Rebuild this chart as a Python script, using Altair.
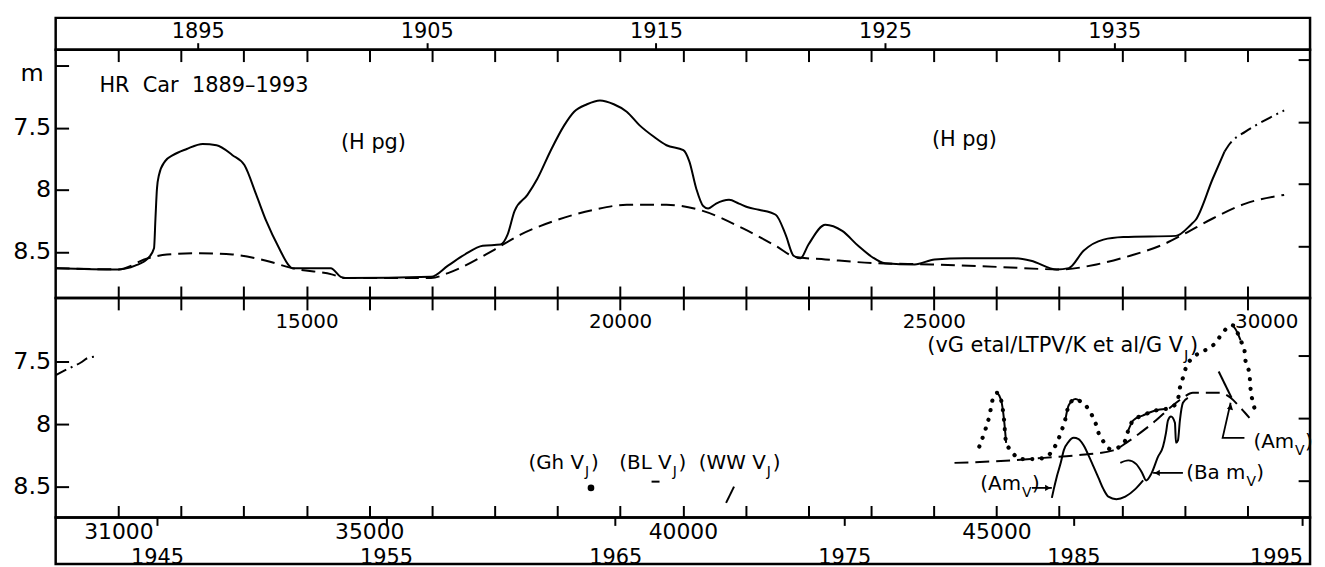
import altair as alt
import pandas as pd

FONT = "DejaVu Sans"
W = 1263
H_STRIP_TOP = 32
H_TOP = 250
H_BOT = 221
H_STRIP_BOT = 47

# ---------------- data (JD - 2400000, magnitude) ----------------
# top panel: HR Car light curve (H pg), solid
hpg_jd = [11000, 11998, 12267, 12473, 12568, 12591, 12615, 12647, 12742, 12869, 13090, 13344,
          13565, 13819, 14009, 14199, 14357, 14563, 14721, 14769, 15386, 15545, 15624, 16986,
          17255, 17524, 17809, 18094, 18205, 18316, 18522, 18680, 18886, 19108, 19266, 19472,
          19678, 19899, 20105, 20311, 20533, 20739, 21008, 21103, 21214, 21324, 21403, 21530,
          21736, 21894, 22037, 22211, 22480, 22638, 22765, 22876, 23003, 23272, 23541, 23795,
          24016, 24222, 24697, 25014, 25489, 26281, 26550, 26962, 27152, 27389, 27706, 28023,
          28862, 29100, 29178, 29448, 29638]
hpg_mag = [8.63, 8.64, 8.61, 8.55, 8.47, 8.23, 7.99, 7.88, 7.77, 7.72, 7.67, 7.63,
           7.64, 7.72, 7.80, 8.04, 8.25, 8.47, 8.61, 8.63, 8.63, 8.70, 8.71, 8.70,
           8.61, 8.52, 8.45, 8.44, 8.36, 8.17, 8.04, 7.91, 7.69, 7.48, 7.37, 7.31,
           7.28, 7.31, 7.37, 7.48, 7.57, 7.64, 7.68, 7.77, 7.99, 8.13, 8.15, 8.11,
           8.08, 8.11, 8.14, 8.16, 8.20, 8.36, 8.53, 8.55, 8.44, 8.28, 8.33, 8.45,
           8.54, 8.59, 8.60, 8.56, 8.55, 8.55, 8.57, 8.64, 8.63, 8.49, 8.40, 8.38,
           8.37, 8.28, 8.24, 7.91, 7.69]

# top panel: dash-dot continuation
dd_top_jd = [29638, 29717, 29970, 30239, 30587]
dd_top_mag = [7.69, 7.63, 7.53, 7.45, 7.36]

# top panel: dashed secular trend
trend_top_jd = [11000, 11998, 12473, 12774, 13296, 13819, 14357, 14769, 15402, 15624, 16986,
                17255, 17999, 18411, 18949, 19583, 20105, 20739, 21261, 21958, 22480, 22797,
                23272, 24064, 24966, 26011, 27025, 27595, 28133, 28656, 28973, 29448, 29970, 30587]
trend_top_mag = [8.63, 8.64, 8.55, 8.52, 8.51, 8.52, 8.57, 8.63, 8.68, 8.71, 8.71,
                 8.67, 8.48, 8.36, 8.25, 8.16, 8.12, 8.12, 8.16, 8.31, 8.45, 8.54,
                 8.56, 8.59, 8.60, 8.62, 8.64, 8.60, 8.53, 8.44, 8.36, 8.23, 8.11, 8.04]

# bottom panel: dash-dot start
dd_bot_jd = [30000, 30190, 30396, 30523, 30681]
dd_bot_mag = [7.61, 7.56, 7.51, 7.47, 7.46]

# bottom panel: dashed trend
trend_bot_jd = [44331, 45233, 45756, 46278, 46864, 47070, 47292, 47545, 47767, 47973, 48131,
                48337, 48559, 48733, 48891, 49034]
trend_bot_mag = [8.31, 8.29, 8.27, 8.25, 8.21, 8.15, 8.07, 7.97, 7.87, 7.79, 7.75,
                 7.75, 7.75, 7.79, 7.87, 7.95]

# bottom panel: dotted vG et al / LTPV / K et al / G  V_J
vg_jd = [44727, 44806, 44885, 44948, 45012, 45075, 45122, 45154, 45233, 45312, 45407, 45597,
         45756, 45867, 45962, 46041, 46104, 46152, 46263, 46342, 46421, 46500, 46579, 46627,
         46706, 46817, 46975, 47054, 47102, 47181, 47339, 47545, 47688, 47783, 47894, 47925,
         47973, 48020, 48131, 48242, 48400, 48495, 48606, 48685, 48764, 48843, 48891, 48954,
         48970, 49034, 49050, 49081, 49129]
vg_mag = [8.18, 8.07, 7.94, 7.79, 7.75, 7.81, 7.97, 8.15, 8.21, 8.26, 8.28, 8.28,
          8.27, 8.23, 8.15, 8.05, 7.95, 7.85, 7.80, 7.82, 7.85, 7.91, 7.99, 8.07,
          8.14, 8.20, 8.18, 8.13, 8.05, 7.97, 7.93, 7.89, 7.88, 7.87, 7.80, 7.71,
          7.63, 7.55, 7.47, 7.43, 7.39, 7.35, 7.27, 7.23, 7.21, 7.27, 7.33, 7.41,
          7.49, 7.60, 7.71, 7.81, 7.89]
# solid pieces drawn over the dotted curve
vgs_seg = ["a", "a", "a", "a", "b", "b", "b", "b", "c", "c", "c", "c", "c", "d", "d", "d"]
vgs_jd = [45012, 45075, 45122, 45154, 46104, 46152, 46263, 46342, 47102, 47181, 47339, 47545,
          47688, 48764, 48843, 48891]
vgs_mag = [7.75, 7.81, 7.97, 8.15, 7.95, 7.85, 7.80, 7.82, 8.05, 7.97, 7.93, 7.89,
           7.88, 7.21, 7.27, 7.33]

# bottom panel: Am V (left)
am1_jd = [45883, 45914, 45962, 46025, 46073, 46152, 46231, 46310, 46389, 46468, 46548, 46627,
          46706, 46785, 46912, 47054, 47213, 47339]
am1_mag = [8.59, 8.52, 8.42, 8.31, 8.21, 8.14, 8.11, 8.12, 8.17, 8.25, 8.34, 8.43,
           8.52, 8.58, 8.60, 8.58, 8.52, 8.45]

# bottom panel: Ba m V
ba_jd = [46975, 47102, 47229, 47323, 47387, 47466, 47577, 47656, 47703, 47735, 47783, 47846,
         47862, 47894, 47925, 47973, 48052]
ba_mag = [8.31, 8.29, 8.32, 8.39, 8.45, 8.40, 8.26, 8.18, 8.07, 7.97, 7.94, 7.99,
          8.15, 8.13, 7.97, 7.83, 7.79]

# short segments: BL V_J, WW V_J, Am V (right)
seg_id = ["BL", "BL", "WW", "WW", "AmR", "AmR"]
seg_jd = [39501, 39628, 40689, 40816, 48543, 48748]
seg_mag = [8.46, 8.46, 8.63, 8.50, 7.58, 7.79]

# Gh V_J single point
gh_jd = [38535]
gh_mag = [8.51]

# leader lines
lead_id = ["L1", "L1", "L2", "L2", "L3", "L3", "L3"]
lead_ord = [0, 1, 0, 1, 0, 1, 2]
lead_jd = [45566, 45883, 47973, 47498, 48954, 48606, 48733]
lead_mag = [8.51, 8.51, 8.39, 8.39, 8.11, 8.11, 7.83]

# labels (bottom panel)
lab_jd = [38424, 39821, 41322, 45392, 48970, 49746]
lab_mag = [8.31, 8.31, 8.31, 8.48, 8.39, 8.14]
lab_main = ["(Gh V", "(BL V", "(WW V", "(Am", "(Ba m", "(Am"]
lab_sub = ["J", "J", "J", "V", "V", "V"]
vg_lab_jd = [47975]
vg_lab_mag = [7.375]
vg_lab_main = ["(vG etal/LTPV/K et al/G V"]
vg_lab_sub = ["J"]

# labels (top panel)
title_text = ["HR\u00a0 Car\u00a0 1889\u20131993"]
title_jd = [11697]
title_mag = [7.16]
hpg_lab_jd = [16067, 25489]
hpg_lab_mag = [7.62, 7.60]
hpg_lab_text = ["(H pg)", "(H pg)"]
unit_jd = [10810]
unit_mag = [7.07]

# axes
top_ticks = list(range(12000, 31000, 1000))
top_labels = [15000, 20000, 25000, 30000]
bot_ticks = list(range(31000, 50000, 1000))
bot_labels = [31000, 35000, 40000, 45000]
top_years = [1895, 1905, 1915, 1925, 1935]
bot_years = [1945, 1955, 1965, 1975, 1985, 1995]

# ---------------- scales & axes ----------------
top_x = alt.Scale(domain=[11000, 31000], nice=False, zero=False)
top_y = alt.Scale(domain=[6.87, 8.87], reverse=True, nice=False, zero=False)
bot_x = alt.Scale(domain=[30000, 50000], nice=False, zero=False)
bot_y = alt.Scale(domain=[6.992, 8.746], reverse=True, nice=False, zero=False)


def lab_expr(labels):
    arr = ",".join(str(v) for v in labels)
    return f"indexof([{arr}], datum.value) >= 0 ? format(datum.value, 'd') : ''"


def x_bottom_axis(ticks, labels, size, pad, offset_cond=None):
    kw = dict(orient="bottom", values=ticks, offset=-12, tickSize=12, labelExpr=lab_expr(labels),
              labelFontSize=size, labelPadding=pad, labelFlush=False, labelOverlap=False,
              domain=False, grid=False, title=None)
    if offset_cond is not None:
        kw["labelOffset"] = {"condition": {"test": f"datum.value == {offset_cond[0]}",
                                           "value": offset_cond[1]}, "value": 0}
    return alt.Axis(**kw)


def x_top_axis(ticks):
    return alt.Axis(orient="top", values=ticks, offset=-12, tickSize=12, labels=False,
                    domain=False, grid=False, title=None)


def y_left_axis(vals):
    return alt.Axis(orient="left", values=vals, offset=-13, tickSize=13,
                    labelExpr="datum.value == 7 ? '' : format(datum.value, '~g')",
                    labelFontSize=24, labelPadding=5, labelFlush=False, labelOverlap=False,
                    domain=False, grid=False, title=None)


def y_right_axis(vals):
    return alt.Axis(orient="right", values=vals, offset=-12, tickSize=12, tickOffset=-6,
                    labels=False, domain=False, grid=False, title=None)


def xy(xs, ys, xaxis=None, yaxis=None):
    return dict(x=alt.X("jd:Q", scale=xs, axis=xaxis), y=alt.Y("mag:Q", scale=ys, axis=yaxis))


LINE = dict(color="black", strokeWidth=2, interpolate="monotone")
DASH = [14, 7]
DASHDOT = [12, 5, 2, 5]

# ---------------- top strip (years) ----------------
top_strip = alt.Chart(pd.DataFrame({"year": top_years})).mark_point(opacity=0).encode(
    x=alt.X("year:Q", scale=alt.Scale(domain=[1888.8, 1943.55], nice=False, zero=False),
            axis=alt.Axis(orient="top", values=top_years, offset=-H_STRIP_TOP, tickSize=7,
                          labelPadding=1, labelFontSize=21, format="d", labelFlush=False,
                          domain=False, grid=False, title=None))
).properties(width=W, height=H_STRIP_TOP)

# ---------------- top panel ----------------
t_solid = alt.Chart(pd.DataFrame({"jd": hpg_jd, "mag": hpg_mag})).mark_line(**LINE).encode(
    **xy(top_x, top_y,
         x_bottom_axis(top_ticks, top_labels, 20, 14, (30000, 19)),
         y_left_axis([7.0, 7.5, 8.0, 8.5])))
t_trend = alt.Chart(pd.DataFrame({"jd": trend_top_jd, "mag": trend_top_mag})).mark_line(
    strokeDash=DASH, **LINE).encode(
    **xy(top_x, top_y, x_top_axis(top_ticks), y_right_axis([7.0, 7.5, 8.0, 8.5])))
t_dd = alt.Chart(pd.DataFrame({"jd": dd_top_jd, "mag": dd_top_mag})).mark_line(
    strokeDash=DASHDOT, **LINE).encode(**xy(top_x, top_y))
t_title = alt.Chart(pd.DataFrame({"jd": title_jd, "mag": title_mag, "t": title_text})).mark_text(
    align="left", baseline="middle", font=FONT, fontSize=21, color="black").encode(
    text="t:N", **xy(top_x, top_y))
t_hpg = alt.Chart(pd.DataFrame({"jd": hpg_lab_jd, "mag": hpg_lab_mag, "t": hpg_lab_text})).mark_text(
    align="center", baseline="middle", font=FONT, fontSize=21, color="black").encode(
    text="t:N", **xy(top_x, top_y))
t_unit = alt.Chart(pd.DataFrame({"jd": unit_jd, "mag": unit_mag, "t": ["m"]})).mark_text(
    align="right", baseline="middle", font=FONT, fontSize=24, color="black").encode(
    text="t:N", **xy(top_x, top_y))

top_panel = alt.layer(t_solid, t_trend, t_dd, t_title, t_hpg, t_unit).resolve_axis(
    x="independent", y="independent").properties(width=W, height=H_TOP)

# ---------------- bottom panel ----------------
b_dd = alt.Chart(pd.DataFrame({"jd": dd_bot_jd, "mag": dd_bot_mag})).mark_line(
    strokeDash=DASHDOT, **LINE).encode(
    **xy(bot_x, bot_y, x_bottom_axis(bot_ticks, bot_labels, 22, 4), y_left_axis([7.5, 8.0, 8.5])))
b_trend = alt.Chart(pd.DataFrame({"jd": trend_bot_jd, "mag": trend_bot_mag})).mark_line(
    strokeDash=DASH, **LINE).encode(
    **xy(bot_x, bot_y, x_top_axis(bot_ticks), y_right_axis([7.5, 8.0, 8.5])))
b_vg = alt.Chart(pd.DataFrame({"jd": vg_jd, "mag": vg_mag})).mark_line(
    color="black", strokeWidth=4.2, strokeCap="round", strokeDash=[0.1, 9.5],
    interpolate="monotone").encode(**xy(bot_x, bot_y))
b_vgs = alt.Chart(pd.DataFrame({"seg": vgs_seg, "jd": vgs_jd, "mag": vgs_mag})).mark_line(
    **LINE).encode(detail="seg:N", **xy(bot_x, bot_y))
b_am1 = alt.Chart(pd.DataFrame({"jd": am1_jd, "mag": am1_mag})).mark_line(**LINE).encode(
    **xy(bot_x, bot_y))
b_ba = alt.Chart(pd.DataFrame({"jd": ba_jd, "mag": ba_mag})).mark_line(**LINE).encode(
    **xy(bot_x, bot_y))
b_seg = alt.Chart(pd.DataFrame({"seg": seg_id, "jd": seg_jd, "mag": seg_mag})).mark_line(
    color="black", strokeWidth=2).encode(detail="seg:N", **xy(bot_x, bot_y))
b_gh = alt.Chart(pd.DataFrame({"jd": gh_jd, "mag": gh_mag})).mark_circle(
    size=45, color="black", opacity=1).encode(**xy(bot_x, bot_y))

lead_df = pd.DataFrame({"id": lead_id, "o": lead_ord, "jd": lead_jd, "mag": lead_mag})
b_lead = alt.Chart(lead_df).mark_line(color="black", strokeWidth=1.8).encode(
    detail="id:N", order="o:Q", **xy(bot_x, bot_y))
arrow_r = alt.Chart(lead_df).transform_filter("datum.id == 'L1' && datum.o == 1").mark_point(
    shape="triangle-right", filled=True, color="black", size=40, opacity=1, xOffset=-4).encode(
    **xy(bot_x, bot_y))
arrow_l = alt.Chart(lead_df).transform_filter("datum.id == 'L2' && datum.o == 1").mark_point(
    shape="triangle-left", filled=True, color="black", size=40, opacity=1, xOffset=4).encode(
    **xy(bot_x, bot_y))
arrow_u = alt.Chart(lead_df).transform_filter("datum.id == 'L3' && datum.o == 2").mark_point(
    shape="triangle-up", filled=True, color="black", size=40, opacity=1, angle=13, yOffset=4).encode(
    **xy(bot_x, bot_y))


def sub_label(jds, mags, mains, subs, size, sub_size, dy):
    d = pd.DataFrame({"jd": jds, "mag": mags, "main": mains, "sub": subs})
    main = alt.Chart(d).mark_text(align="right", baseline="middle", font=FONT, fontSize=size,
                                  color="black").encode(text="main:N", **xy(bot_x, bot_y))
    sub = alt.Chart(d).mark_text(align="left", baseline="middle", font=FONT, fontSize=sub_size,
                                 color="black", dx=1, dy=dy).encode(text="sub:N", **xy(bot_x, bot_y))
    closers = []
    for letter, dx in (("J", 7), ("V", 11)):
        closers.append(alt.Chart(d).transform_filter(f"datum.sub == '{letter}'").transform_calculate(
            c="')'").mark_text(align="left", baseline="middle", font=FONT, fontSize=size,
                               color="black", dx=dx).encode(text="c:N", **xy(bot_x, bot_y)))
    return [main, sub] + closers


labels_small = sub_label(lab_jd, lab_mag, lab_main, lab_sub, 20, 14, 9)
labels_vg = sub_label(vg_lab_jd, vg_lab_mag, vg_lab_main, vg_lab_sub, 21, 15, 9)

bot_panel = alt.layer(b_dd, b_trend, b_vg, b_vgs, b_am1, b_ba, b_seg, b_gh, b_lead,
                      arrow_r, arrow_l, arrow_u, *labels_small, *labels_vg).resolve_axis(
    x="independent", y="independent").properties(width=W, height=H_BOT)

# ---------------- bottom strip (years) ----------------
bot_strip = alt.Chart(pd.DataFrame({"year": bot_years})).mark_point(opacity=0).encode(
    x=alt.X("year:Q", scale=alt.Scale(domain=[1940.58, 1995.33], nice=False, zero=False),
            axis=alt.Axis(orient="bottom", values=bot_years, offset=-H_STRIP_BOT, tickSize=8,
                          labelPadding=21, labelFontSize=21, format="d", labelFlush=20,
                          domain=False, grid=False, title=None))
).properties(width=W, height=H_STRIP_BOT)

chart = alt.vconcat(top_strip, top_panel, bot_panel, bot_strip, spacing=0, bounds="flush").properties(
    padding={"left": 3, "top": 6, "right": 2, "bottom": 0}
).configure_view(stroke="black", strokeWidth=2.5).configure_axis(
    tickColor="black", tickWidth=2, labelColor="black", labelFont=FONT)

chart.save("out.html", embed_options={"renderer": "svg", "actions": False})
